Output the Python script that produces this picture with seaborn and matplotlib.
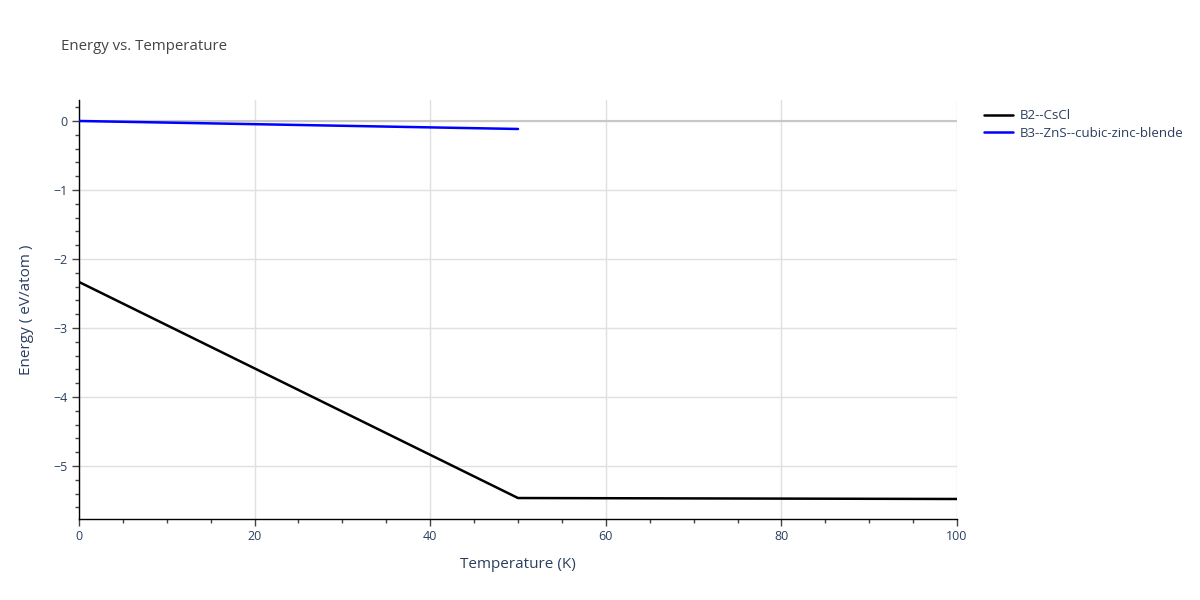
import numpy as np
import pandas as pd
import matplotlib
matplotlib.use("Agg")
import matplotlib.pyplot as plt
from matplotlib.ticker import MultipleLocator
import seaborn as sns

# Data
b2_temp = [0, 50, 100]
b2_energy = [-2.333, -5.464, -5.478]
b3_temp = [0, 50]
b3_energy = [0.0, -0.116]
series_names = ["B2--CsCl", "B3--ZnS--cubic-zinc-blende"]
series_colors = ["black", "blue"]

df = pd.concat([
    pd.DataFrame({"Temperature": b2_temp, "Energy": b2_energy, "phase": series_names[0]}),
    pd.DataFrame({"Temperature": b3_temp, "Energy": b3_energy, "phase": series_names[1]}),
])

sns.set_style("white")
plt.rcParams["font.family"] = ["Open Sans", "DejaVu Sans"]
text_col = "#2a3f5f"

fig = plt.figure(figsize=(12, 6), dpi=100)
ax = fig.add_axes([79 / 1200, 1 - 519 / 600, (957 - 79) / 1200, (519 - 100) / 600])

ax.axhline(0, color="#c8c8c8", lw=1.5, zorder=1)
sns.lineplot(data=df, x="Temperature", y="Energy", hue="phase",
             palette=dict(zip(series_names, series_colors)), lw=1.8,
             ax=ax, legend=False, zorder=3, sort=False, estimator=None)

ax.set_xlim(0, 100)
ax.xaxis.set_major_locator(MultipleLocator(20))
ax.xaxis.set_minor_locator(MultipleLocator(5))
ax.set_yticks([0, -1, -2, -3, -4, -5])
ax.set_yticklabels(["0", "\u22121", "\u22122", "\u22123", "\u22124", "\u22125"])
ax.yaxis.set_minor_locator(MultipleLocator(0.2))
ax.set_ylim(-5.768, 0.304)
ax.grid(True, which="major", color="#e0e0e0", lw=1, zorder=0)
ax.set_axisbelow(True)

for s in ["top", "right"]:
    ax.spines[s].set_visible(False)
for s in ["left", "bottom"]:
    ax.spines[s].set_color("black")
    ax.spines[s].set_linewidth(1)

ax.tick_params(axis="both", which="both", bottom=True, left=True)
ax.tick_params(axis="both", which="major", direction="out", length=5, width=1,
               color="#444444", labelcolor=text_col, labelsize=9, pad=3)
ax.tick_params(axis="both", which="minor", direction="out", length=3, width=1, color="#444444")

ax.set_xlabel("Temperature (K)", color=text_col, fontsize=11, labelpad=10)
ax.set_ylabel("Energy ( eV/atom )", color=text_col, fontsize=11, labelpad=14)

fig.text(61 / 1200, 1 - 46 / 600, "Energy vs. Temperature", color="#444444",
         fontsize=10.8, va="center", ha="left")

handles = [plt.Line2D([], [], color=c, lw=1.8) for c in series_colors]
fig.legend(handles, series_names, loc="upper left", bbox_to_anchor=(979 / 1200, 1 - 104 / 600),
           frameon=False, fontsize=9.5, labelcolor=text_col, handlelength=2.2,
           handletextpad=0.5, labelspacing=0.35, borderaxespad=0)

fig.savefig("out.png", dpi=100)
